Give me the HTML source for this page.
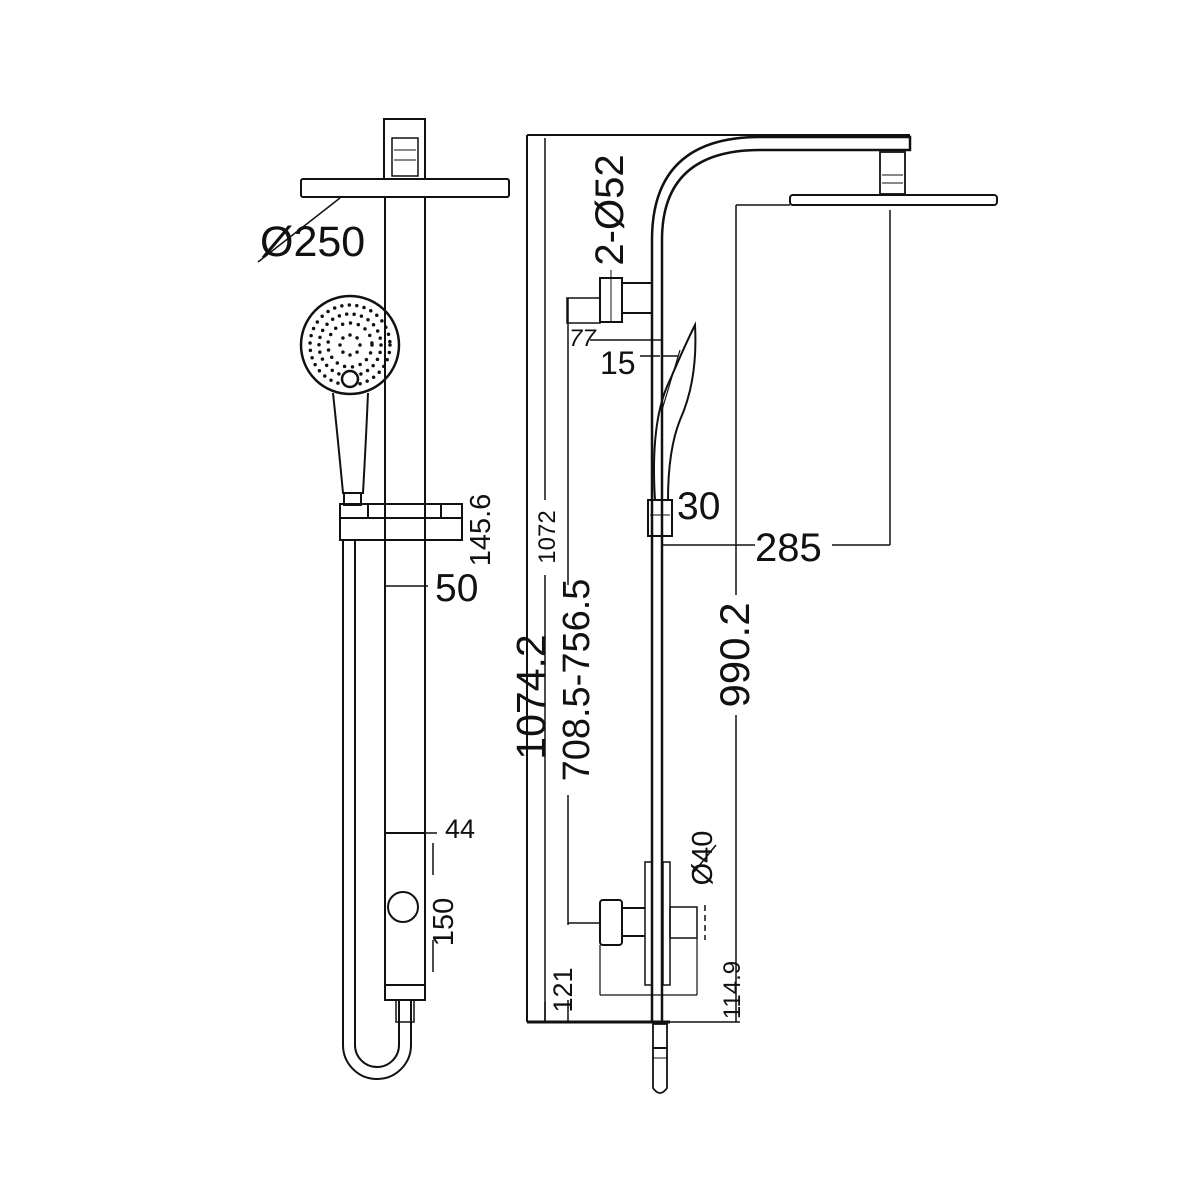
<!DOCTYPE html>
<html><head><meta charset="utf-8"><style>
html,body{margin:0;padding:0;background:#fff}
svg{display:block}
text{font-family:"Liberation Sans",sans-serif;fill:#111}
</style></head><body>
<svg width="1200" height="1200" viewBox="0 0 1200 1200" xmlns="http://www.w3.org/2000/svg">
<g fill="none" stroke="#111" stroke-width="2">
<!-- LEFT VIEW -->
<rect x="384" y="119" width="41" height="60"/>
<rect x="392" y="138" width="26" height="38" stroke-width="1.5"/>
<line x1="394" y1="150" x2="416" y2="150" stroke-width="1"/>
<line x1="394" y1="160" x2="416" y2="160" stroke-width="1"/>
<rect x="301" y="179" width="208" height="18" rx="2"/>
<line x1="385" y1="197" x2="385" y2="1000"/>
<line x1="425" y1="197" x2="425" y2="1000"/>
<line x1="340" y1="198" x2="258" y2="262" stroke-width="1.5"/>
<!-- hand shower -->
<circle cx="350" cy="345" r="49" stroke-width="2.5"/>
<g stroke-linecap="round" stroke-width="3.5">
<circle cx="350" cy="345" r="40" stroke-dasharray="0 7.5"/>
<circle cx="350" cy="345" r="31" stroke-dasharray="0 7.5"/>
<circle cx="350" cy="345" r="22" stroke-dasharray="0 8"/>
<circle cx="350" cy="345" r="10" stroke-dasharray="0 7.8"/>
</g>
<circle cx="350" cy="379" r="8" stroke-width="2.5" fill="#fff"/>
<path d="M333 393 Q338 440 343 493 L363 493 Q366 440 368 393"/>
<rect x="344" y="493" width="17" height="12"/>
<!-- slider -->
<rect x="340" y="504" width="122" height="14"/>
<line x1="368" y1="504" x2="368" y2="518"/>
<line x1="441" y1="504" x2="441" y2="518"/>
<rect x="340" y="518" width="122" height="22"/>
<!-- hose -->
<line x1="343" y1="540" x2="343" y2="1045"/>
<line x1="355" y1="540" x2="355" y2="1045"/>
<path d="M343 1045 A34 34 0 0 0 411 1045 L411 1000"/>
<path d="M355 1045 A22 22 0 0 0 399 1045 L399 1000"/>
<rect x="396" y="1000" width="18" height="22" stroke-width="1.5"/>
<!-- valve -->
<rect x="385" y="833" width="40" height="167"/>
<line x1="385" y1="833" x2="437" y2="833" stroke-width="1.5"/>
<line x1="385" y1="985" x2="425" y2="985"/>
<circle cx="403" cy="907" r="15"/>
<line x1="433" y1="843" x2="433" y2="875" stroke-width="1.5"/>
<line x1="433" y1="940" x2="433" y2="972" stroke-width="1.5"/>
<!-- dims left -->
<line x1="385" y1="586" x2="428" y2="586" stroke-width="1.5"/>
<line x1="462" y1="505" x2="462" y2="540" stroke-width="1.5"/>

<!-- RIGHT VIEW -->
<line x1="527" y1="135" x2="527" y2="1022"/>
<line x1="545" y1="138" x2="545" y2="500" stroke-width="1.5"/>
<line x1="545" y1="575" x2="545" y2="1022" stroke-width="1.5"/>
<line x1="527" y1="135" x2="910" y2="135"/>
<!-- pipe -->
<path d="M652 1022 L652 240 Q652 137 760 137 L910 137 L910 150 L760 150 Q662 150 662 240 L662 1022" stroke-width="2.5"/>
<rect x="880" y="152" width="25" height="42" stroke-width="1.8"/>
<line x1="882" y1="175" x2="903" y2="175" stroke-width="1"/>
<line x1="882" y1="183" x2="903" y2="183" stroke-width="1"/>
<rect x="790" y="195" width="207" height="10" rx="3" stroke-width="2"/>
<!-- dims -->
<line x1="736" y1="205" x2="790" y2="205" stroke-width="1.5"/>
<line x1="736" y1="205" x2="736" y2="595" stroke-width="1.5"/>
<line x1="736" y1="715" x2="736" y2="1022" stroke-width="1.5"/>
<line x1="890" y1="210" x2="890" y2="545" stroke-width="1.5"/>
<line x1="662" y1="545" x2="755" y2="545" stroke-width="1.5"/>
<line x1="832" y1="545" x2="890" y2="545" stroke-width="1.5"/>
<line x1="568" y1="298" x2="568" y2="585" stroke-width="1.5"/>
<line x1="568" y1="795" x2="568" y2="925" stroke-width="1.5"/>
<line x1="568" y1="923" x2="600" y2="923" stroke-width="1.5"/>
<!-- bracket -->
<rect x="567" y="298" width="33" height="25" stroke-width="1.5"/>
<rect x="600" y="278" width="22" height="44"/>
<line x1="611" y1="270" x2="611" y2="322" stroke-width="1"/>
<line x1="622" y1="283" x2="652" y2="283"/>
<line x1="622" y1="313" x2="652" y2="313"/>
<line x1="590" y1="340" x2="662" y2="340" stroke-width="1.5"/>
<line x1="640" y1="356" x2="660" y2="356" stroke-width="1.5"/>
<line x1="662" y1="356" x2="678" y2="356" stroke-width="1.5"/>
<!-- hand blade -->
<path d="M655 500 Q650 420 670 380 Q685 345 695 325 Q698 380 680 420 Q668 450 668 500" stroke-width="2"/>
<path d="M662 410 L680 350" stroke-width="1.2"/>
<rect x="648" y="500" width="24" height="36" stroke-width="2"/>
<line x1="650" y1="515" x2="670" y2="515" stroke-width="1"/>
<!-- valve right -->
<rect x="645" y="862" width="7" height="123" stroke-width="1.5"/>
<rect x="663" y="862" width="7" height="123" stroke-width="1.5"/>
<rect x="600" y="900" width="22" height="45" rx="3"/>
<line x1="622" y1="908" x2="645" y2="908"/>
<line x1="622" y1="936" x2="645" y2="936"/>
<rect x="670" y="907" width="27" height="31" stroke-width="1.5"/>
<line x1="705" y1="905" x2="705" y2="940" stroke-width="1.5" stroke-dasharray="6 4"/>
<line x1="600" y1="945" x2="600" y2="995" stroke-width="1.2"/>
<line x1="697" y1="938" x2="697" y2="995" stroke-width="1.2"/>
<line x1="600" y1="995" x2="697" y2="995" stroke-width="1.2"/>
<line x1="694" y1="872" x2="716" y2="845" stroke-width="1.5"/>
<line x1="527" y1="1022" x2="670" y2="1022" stroke-width="3"/>
<line x1="670" y1="1022" x2="740" y2="1022" stroke-width="1.5"/>
<line x1="545" y1="1002" x2="545" y2="1022" stroke-width="1.5"/>
<line x1="568" y1="1000" x2="568" y2="1022" stroke-width="1.5"/>
<path d="M653 1024 L653 1088 Q660 1098 667 1088 L667 1024 Z" stroke-width="1.8"/>
<line x1="653" y1="1048" x2="667" y2="1048" stroke-width="2"/>
<line x1="653" y1="1058" x2="667" y2="1058" stroke-width="1"/>
</g>
<!-- labels -->
<text x="260" y="256" font-size="43">Ø250</text>
<text x="435" y="601" font-size="39">50</text>
<text x="445" y="838" font-size="27">44</text>
<text font-size="29" transform="translate(490,530) rotate(-90)" text-anchor="middle">145.6</text>
<text font-size="29" transform="translate(453,922) rotate(-90)" text-anchor="middle">150</text>
<text font-size="24" transform="translate(555,537) rotate(-90)" text-anchor="middle">1072</text>
<text font-size="41" transform="translate(545,697) rotate(-90)" text-anchor="middle">1074.2</text>
<text font-size="38" transform="translate(589,680) rotate(-90)" text-anchor="middle">708.5-756.5</text>
<text font-size="42" transform="translate(749,655) rotate(-90)" text-anchor="middle">990.2</text>
<text font-size="40" transform="translate(623,210) rotate(-90)" text-anchor="middle">2-Ø52</text>
<text font-size="24" font-style="italic" x="569" y="346">77</text>
<text font-size="32" x="600" y="374">15</text>
<text font-size="39" x="677" y="519">30</text>
<text font-size="40" x="755" y="561">285</text>
<text font-size="29" transform="translate(712,858) rotate(-90)" text-anchor="middle">Ø40</text>
<text font-size="24" transform="translate(740,990) rotate(-90)" text-anchor="middle">114.9</text>
<text font-size="27" transform="translate(572,990) rotate(-90)" text-anchor="middle">121</text>
</svg>
</body></html>
